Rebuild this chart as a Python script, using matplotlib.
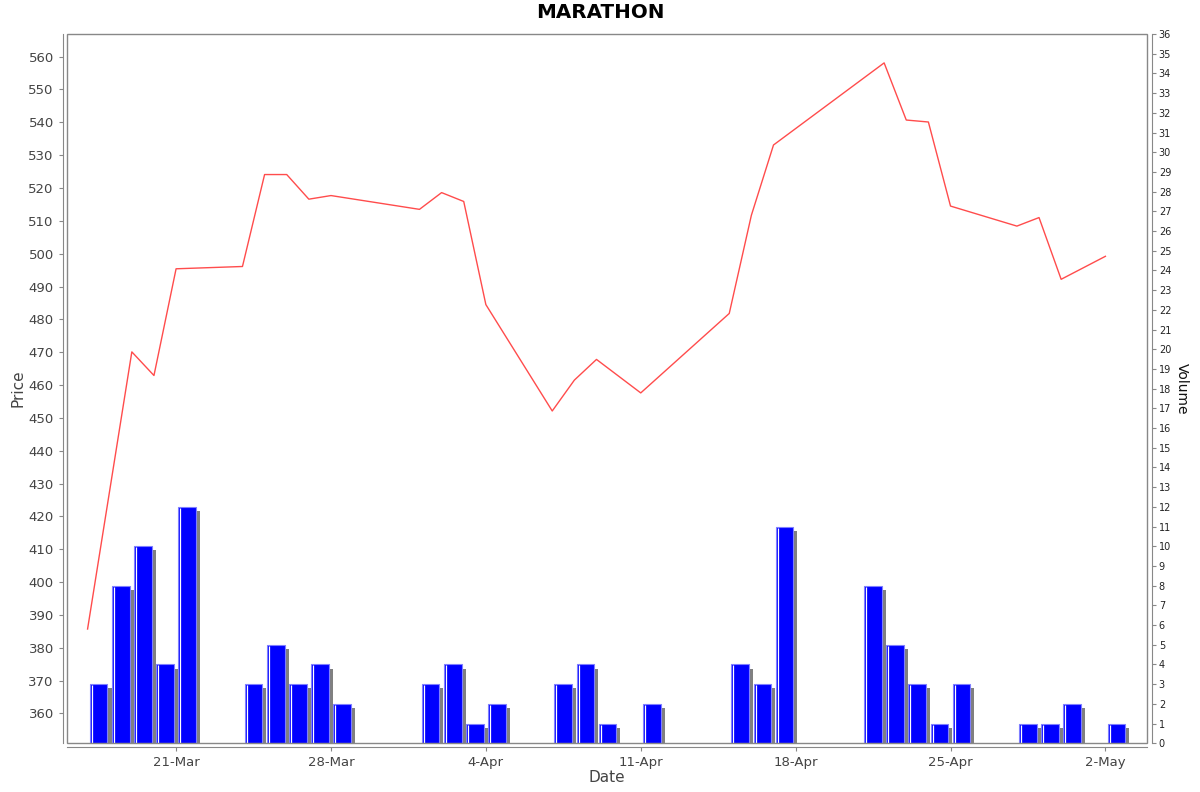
import datetime as dt

import matplotlib
matplotlib.use("Agg")
import matplotlib.pyplot as plt
import matplotlib.dates as mdates
import matplotlib.patheffects as pe
from matplotlib.patches import Rectangle
import numpy as np

TITLE = "MARATHON"

# Closing price, one point per trading day
price_dates = ["2014-03-17", "2014-03-19", "2014-03-20", "2014-03-21",
               "2014-03-24", "2014-03-25", "2014-03-26", "2014-03-27",
               "2014-03-28", "2014-04-01", "2014-04-02", "2014-04-03",
               "2014-04-04", "2014-04-07", "2014-04-08", "2014-04-09",
               "2014-04-11", "2014-04-15", "2014-04-16", "2014-04-17",
               "2014-04-22", "2014-04-23", "2014-04-24", "2014-04-25",
               "2014-04-28", "2014-04-29", "2014-04-30", "2014-05-02"]
prices = [385.7, 470.1, 462.9, 495.4, 496.1, 524.1, 524.1, 516.6, 517.7,
          513.5, 518.6, 515.9, 484.5, 452.1, 461.5, 467.8, 457.6, 481.8,
          511.7, 533.1, 558.1, 540.7, 540.1, 514.5, 508.4, 511.0, 492.2,
          499.2]

# Daily volume
volume_dates = ["2014-03-17", "2014-03-18", "2014-03-19", "2014-03-20",
                "2014-03-21", "2014-03-24", "2014-03-25", "2014-03-26",
                "2014-03-27", "2014-03-28", "2014-04-01", "2014-04-02",
                "2014-04-03", "2014-04-04", "2014-04-07", "2014-04-08",
                "2014-04-09", "2014-04-11", "2014-04-15", "2014-04-16",
                "2014-04-17", "2014-04-21", "2014-04-22", "2014-04-23",
                "2014-04-24", "2014-04-25", "2014-04-28", "2014-04-29",
                "2014-04-30", "2014-05-02"]
volumes = [3, 8, 10, 4, 12, 3, 5, 3, 4, 2, 3, 4, 1, 2, 3, 4, 1, 2, 4, 3, 11,
           8, 5, 3, 1, 3, 1, 1, 2, 1]


def to_num(dates):
    return mdates.date2num([dt.datetime.strptime(d, "%Y-%m-%d") for d in dates])


px = to_num(price_dates)
vx = to_num(volume_dates)
vol = np.array(volumes)

fig = plt.figure(figsize=(12, 7.92), dpi=100)
ax = fig.add_axes([67 / 1200, 1 - 743.3 / 792, 1080 / 1200, 709.3 / 792])
ax2 = ax.twinx()
ax.set_zorder(ax2.get_zorder() + 1)
ax.patch.set_visible(False)

# volume bars with a drop shadow, each bar covers most of its day
shadow = [pe.SimplePatchShadow(offset=(2.9, -2.9), shadow_rgbFace="#808080",
                               alpha=1.0), pe.Normal()]
bars = ax2.bar(vx + 0.5, vol, width=0.8, color="#0000ff",
               edgecolor="#7f7fff", linewidth=0.8)
for b in bars:
    b.set_path_effects(shadow)
ax2.vlines(vx + 0.19, 0, vol - 0.05, color="white", lw=0.9)

ax.plot(px, prices, color="#ff4c4c", lw=1.0)

ax.set_xlim(px[0] - 0.93, px[-1] + 1.88)
ax.set_ylim(350.9, 566.9)
ax2.set_ylim(0, 36)

ax.set_yticks(np.arange(360, 561, 10))
ax2.set_yticks(np.arange(0, 37, 1))
ax.xaxis.set_major_locator(mdates.WeekdayLocator(byweekday=mdates.FR))
ax.xaxis.set_major_formatter(
    matplotlib.ticker.FuncFormatter(
        lambda v, p: "%d-%s" % (mdates.num2date(v).day,
                                mdates.num2date(v).strftime("%b"))))

# axis lines stand slightly off the plot box, like the original
for a in (ax, ax2):
    for s in a.spines.values():
        s.set_visible(False)
for name in ("left", "bottom"):
    ax.spines[name].set_visible(True)
    ax.spines[name].set_position(("outward", 3))
    ax.spines[name].set_color("#888888")
ax2.spines["right"].set_visible(True)
ax2.spines["right"].set_position(("outward", 3.5))
ax2.spines["right"].set_color("#888888")
ax.add_patch(Rectangle((0, 0), 1, 1, transform=ax.transAxes, fill=False,
                       edgecolor="#888888", lw=1, clip_on=False, zorder=10))

ax.tick_params(axis="both", length=3, width=0.8, color="#888888",
               labelsize=9.5, labelcolor="#444444")
ax2.tick_params(axis="y", length=3, width=0.8, color="#888888",
                labelsize=7, labelcolor="#222222", pad=2)

ax.set_ylabel("Price", fontsize=11, color="#444444")
ax.yaxis.set_label_coords(-0.038, 0.5)
ax.set_xlabel("Date", fontsize=11, color="#444444")
ax.xaxis.set_label_coords(0.5, -0.037)
ax2.set_ylabel("Volume", fontsize=10, color="#111111", rotation=-90,
               va="center")
ax2.yaxis.set_label_coords(1.032, 0.5)

fig.text(0.5, 1 - 13 / 792, TITLE, ha="center", va="center", fontsize=14.3,
         fontweight="bold")

fig.savefig("out.png", dpi=100)
